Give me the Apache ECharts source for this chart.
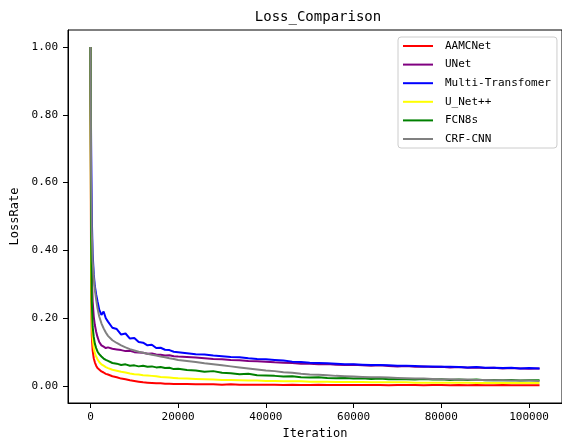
<!DOCTYPE html>
<html>
<head>
<meta charset="utf-8">
<script src="https://cdn.jsdelivr.net/npm/echarts@6/dist/echarts.min.js"></script>
<style>html,body{margin:0;padding:0;background:#fff}#c{width:562px;height:445px}</style>
</head>
<body>
<div id="c"></div>
<script>
const iterations = [0,150,300,500,750,1000,1300,1600,2000,2500,3000,3500,4000,
5000,6000,7000,8000,9000,10000,11000,12000,13000,14000,15000,16000,17000,18000,19000,20000,
22000,24000,26000,28000,30000,32000,34000,36000,38000,40000,
42000,44000,46000,48000,50000,52000,54000,56000,58000,60000,
62000,64000,66000,68000,70000,72000,74000,76000,78000,80000,
82000,84000,86000,88000,90000,92000,94000,96000,98000,100000,102400];

const seriesNames = ['AAMCNet','UNet','Multi-Transfomer','U_Net++','FCN8s','CRF-CNN'];

const aamcnet = [1.0,0.29,0.15,0.105,0.082,0.07,0.06,0.053,0.048,0.043,0.04,0.036,0.034,
0.029,0.026,0.022,0.02,0.017,0.015,0.013,0.011,0.01,0.009,0.008,0.008,0.007,0.007,0.006,0.006,
0.006,0.005,0.005,0.005,0.004,0.005,0.004,0.004,0.004,0.004,
0.004,0.003,0.004,0.003,0.003,0.004,0.003,0.003,0.003,0.003,
0.003,0.003,0.003,0.002,0.003,0.003,0.003,0.002,0.003,0.003,
0.002,0.003,0.002,0.003,0.002,0.002,0.003,0.002,0.002,0.002,0.002];

const unet = [1.0,0.55,0.34,0.25,0.205,0.18,0.16,0.145,0.13,0.12,0.116,0.112,0.114,
0.11,0.108,0.106,0.103,0.104,0.1,0.099,0.098,0.095,0.096,0.093,0.092,0.09,0.091,0.088,0.087,
0.086,0.084,0.082,0.08,0.079,0.077,0.076,0.074,0.073,0.072,
0.07,0.069,0.068,0.066,0.066,0.064,0.065,0.063,0.062,0.063,
0.061,0.06,0.061,0.059,0.058,0.059,0.057,0.058,0.056,0.057,
0.055,0.056,0.054,0.055,0.053,0.054,0.052,0.053,0.052,0.051,0.052];

const multiTransfomer = [1.0,0.72,0.5,0.39,0.33,0.295,0.27,0.25,0.225,0.21,0.22,0.2,0.19,
0.172,0.168,0.152,0.155,0.14,0.142,0.13,0.128,0.12,0.122,0.112,0.113,0.107,0.106,0.101,0.1,
0.097,0.094,0.093,0.09,0.088,0.086,0.085,0.082,0.08,0.079,
0.077,0.075,0.072,0.071,0.069,0.068,0.067,0.066,0.064,0.064,
0.063,0.062,0.062,0.061,0.06,0.06,0.059,0.058,0.058,0.057,
0.057,0.056,0.055,0.056,0.054,0.054,0.053,0.054,0.052,0.053,0.052];

const unetPP = [1.0,0.34,0.19,0.14,0.112,0.097,0.087,0.079,0.071,0.064,0.06,0.056,0.053,
0.048,0.045,0.042,0.04,0.037,0.035,0.034,0.032,0.031,0.03,0.029,0.027,0.026,0.025,0.024,0.023,
0.022,0.021,0.02,0.019,0.018,0.018,0.017,0.016,0.016,0.015,
0.015,0.014,0.014,0.014,0.013,0.013,0.013,0.012,0.012,0.012,
0.012,0.011,0.011,0.011,0.011,0.011,0.01,0.01,0.01,0.01,
0.01,0.01,0.01,0.009,0.009,0.009,0.009,0.009,0.009,0.009,0.009];

const fcn8s = [1.0,0.45,0.25,0.175,0.145,0.125,0.112,0.102,0.094,0.087,0.081,0.077,0.074,
0.068,0.066,0.062,0.064,0.06,0.061,0.058,0.06,0.057,0.058,0.055,0.056,0.053,0.054,0.05,0.051,
0.047,0.046,0.042,0.044,0.039,0.038,0.035,0.036,0.032,0.031,
0.03,0.028,0.029,0.026,0.025,0.026,0.024,0.023,0.024,0.022,
0.023,0.021,0.022,0.02,0.021,0.02,0.019,0.021,0.019,0.02,
0.018,0.019,0.018,0.019,0.017,0.018,0.017,0.018,0.016,0.017,0.017];

const crfcnn = [1.0,0.62,0.46,0.37,0.32,0.285,0.255,0.23,0.205,0.185,0.17,0.158,0.148,
0.135,0.127,0.12,0.114,0.109,0.105,0.101,0.098,0.095,0.092,0.09,0.087,0.085,0.082,0.08,0.077,
0.074,0.071,0.067,0.064,0.061,0.058,0.055,0.052,0.049,0.046,
0.044,0.041,0.039,0.036,0.034,0.033,0.032,0.03,0.029,0.028,
0.027,0.026,0.026,0.025,0.024,0.023,0.022,0.022,0.021,0.02,
0.02,0.019,0.019,0.018,0.018,0.017,0.017,0.016,0.016,0.016,0.015];

const xTicks = [0,20000,40000,60000,80000,100000];
const yTicks = [0,0.2,0.4,0.6,0.8,1.0];

const colors = ['#ff0000','#800080','#0000ff','#ffff00','#008000','#808080'];
const values = [aamcnet, unet, multiTransfomer, unetPP, fcn8s, crfcnn];

const FONT = 'DejaVu Sans Mono';

const chart = echarts.init(document.getElementById('c'), null, {renderer:'canvas'});
chart.setOption({
  animation: false,
  backgroundColor: '#ffffff',
  title: {
    text: 'Loss_Comparison', left: 318, top: 10, padding: 0, textAlign: 'center',
    textStyle: {fontFamily: FONT, fontSize: 14, fontWeight: 'normal', color: '#000'}
  },
  legend: {
    orient: 'vertical', left: 398, top: 37,
    padding: [3, 6, 3, 5],
    icon: 'rect',
    itemWidth: 30, itemHeight: 2, itemGap: 6.6,
    borderColor: '#cccccc', borderWidth: 1, borderRadius: 3,
    backgroundColor: '#ffffff',
    data: seriesNames,
    textStyle: {fontFamily: FONT, fontSize: 11, lineHeight: 12, color: '#000', padding: [0, 0, 0, 7]}
  },
  grid: {
    left: 68, top: 30, width: 500, height: 373,
    show: true, borderColor: '#000', borderWidth: 1, backgroundColor: 'transparent'
  },
  xAxis: {
    type: 'value', min: -5120, max: 107520,
    name: 'Iteration', nameLocation: 'middle', nameGap: 25,
    nameTextStyle: {fontFamily: FONT, fontSize: 12, color: '#000'},
    axisLine: {onZero: false, lineStyle: {color: '#000', width: 1}},
    axisTick: {customValues: xTicks, length: 5, lineStyle: {color: '#000'}},
    axisLabel: {customValues: xTicks, margin: 9, fontFamily: FONT, fontSize: 11, color: '#000',
      formatter: v => String(v)},
    splitLine: {show: false}
  },
  yAxis: {
    type: 'value', min: -0.05, max: 1.05,
    name: 'LossRate', nameLocation: 'middle', nameGap: 42, nameRotate: 90,
    nameTextStyle: {fontFamily: FONT, fontSize: 12, color: '#000'},
    axisLine: {onZero: false, lineStyle: {color: '#000', width: 1}},
    axisTick: {customValues: yTicks, length: 5, lineStyle: {color: '#000'}},
    axisLabel: {customValues: yTicks, margin: 10, fontFamily: FONT, fontSize: 11, color: '#000',
      formatter: v => v.toFixed(2)},
    splitLine: {show: false}
  },
  series: seriesNames.map((n, i) => ({
    name: n, type: 'line', symbol: 'none', showSymbol: false,
    data: iterations.map((x, j) => [x, values[i][j]]),
    lineStyle: {color: colors[i], width: 2},
    itemStyle: {color: colors[i]},
    silent: true
  }))
});
</script>
</body>
</html>
